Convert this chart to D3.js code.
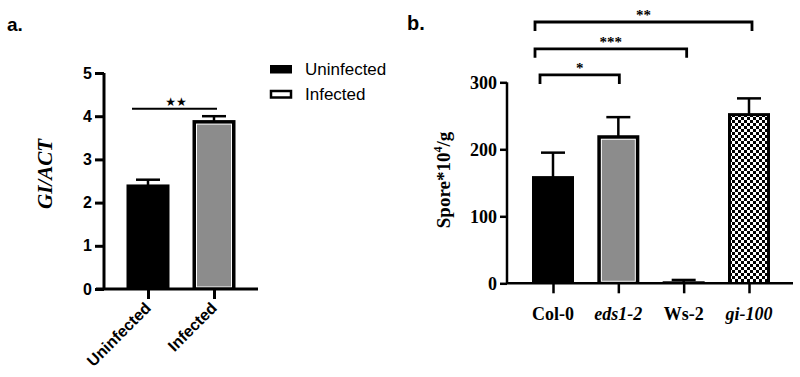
<!DOCTYPE html>
<html><head><meta charset="utf-8">
<script src="https://cdn.jsdelivr.net/npm/d3@7"></script>
<style>body{margin:0;background:#fff}svg{display:block}</style>
</head><body>
<svg id="c" width="800" height="377"></svg>
<script>
// ---- data ----
const catsA = ["Uninfected", "Infected"];
const valsA = [2.42, 3.91];
const errA = [0.11, 0.09];
const ticksA = [0, 1, 2, 3, 4, 5];
const sigA = [{from: "Uninfected", to: "Infected", level: 4.17, label: "★★"}];
const legendA = ["Uninfected", "Infected"];

const catsB = ["Col-0", "eds1-2", "Ws-2", "gi-100"];
const italB = [false, true, false, true];
const valsB = [160, 221, 3, 254];
const errB = [35, 27, 2, 22];
const ticksB = [0, 100, 200, 300];
const sigB = [
  {from: "Col-0", to: "gi-100", level: 390, label: "**"},
  {from: "Col-0", to: "Ws-2", level: 350, label: "***"},
  {from: "Col-0", to: "eds1-2", level: 311, label: "*"}
];

const svg = d3.select("#c");
const defs = svg.append("defs");
const pat = defs.append("pattern").attr("id", "chk").attr("patternUnits", "userSpaceOnUse")
  .attr("width", 6).attr("height", 6);
pat.append("rect").attr("width", 6).attr("height", 6).attr("fill", "#fff");
pat.append("rect").attr("width", 3).attr("height", 3).attr("fill", "#000");
pat.append("rect").attr("x", 3).attr("y", 3).attr("width", 3).attr("height", 3).attr("fill", "#000");

function bar(g, x, y, w, h, style) {
  if (style === "black") {
    g.append("rect").attr("x", x).attr("y", y).attr("width", w).attr("height", h).attr("fill", "#000");
  } else if (style === "gray") {
    g.append("rect").attr("x", x).attr("y", y).attr("width", w).attr("height", h).attr("fill", "#000");
    g.append("rect").attr("x", x + 3.5).attr("y", y + 3.5).attr("width", w - 7).attr("height", h - 5).attr("fill", "#fff");
    g.append("rect").attr("x", x + 4.5).attr("y", y + 4.5).attr("width", w - 9).attr("height", h - 7).attr("fill", "#8c8c8c");
  } else if (style === "check") {
    g.append("rect").attr("x", x).attr("y", y).attr("width", w).attr("height", h).attr("fill", "#000");
    g.append("rect").attr("x", x + 3).attr("y", y + 3).attr("width", w - 6).attr("height", h - 4).attr("fill", "url(#chk)");
  }
}

// ---------- Panel a ----------
const yA = d3.scaleLinear().domain([0, 5]).range([289, 73]);
const xA = d3.scalePoint().domain(catsA).range([148, 214]);
const bwA = 43;
const gA = svg.append("g");

svg.append("text").attr("x", 7).attr("y", 31).attr("font-family", "Arial, Liberation Sans, sans-serif")
  .attr("font-weight", "bold").attr("font-size", 19).text("a.");

catsA.forEach((c, i) => {
  const x0 = xA(c) - bwA / 2, yt = yA(valsA[i]);
  gA.append("line").attr("x1", xA(c)).attr("x2", xA(c)).attr("y1", yA(valsA[i] + errA[i])).attr("y2", yt + 2)
    .attr("stroke", "#000").attr("stroke-width", 2.5);
  gA.append("line").attr("x1", xA(c) - 12).attr("x2", xA(c) + 12).attr("y1", yA(valsA[i] + errA[i])).attr("y2", yA(valsA[i] + errA[i]))
    .attr("stroke", "#000").attr("stroke-width", 2.5);
  bar(gA, x0, yt, bwA, yA(0) - yt, i === 0 ? "black" : "gray");
});

const axA = gA.append("g").attr("transform", "translate(104,0)")
  .call(d3.axisLeft(yA).tickValues(ticksA).tickSize(9).tickPadding(3).tickFormat(d3.format("d")));
axA.select(".domain").attr("stroke-width", 3).attr("d", `M0,${yA(5)}V${yA(0)}`);
axA.selectAll(".tick line").attr("stroke-width", 3);
axA.selectAll(".tick text").attr("font-family", "Arial, Liberation Sans, sans-serif").attr("font-weight", "bold")
  .attr("font-size", 16).attr("fill", "#000");

const axXA = gA.append("g").attr("transform", `translate(0,${yA(0)})`)
  .call(d3.axisBottom(xA).tickSize(10).tickFormat(""));
axXA.select(".domain").attr("stroke-width", 3).attr("d", "M96,0H258");
axXA.selectAll(".tick line").attr("stroke-width", 3);
catsA.forEach(c => {
  gA.append("text").attr("transform", `translate(${xA(c) + 4},${yA(0) + 20}) rotate(-45)`)
    .attr("text-anchor", "end").attr("font-family", "Arial, Liberation Sans, sans-serif")
    .attr("font-weight", "bold").attr("font-size", 16).text(c);
});

gA.append("text").attr("transform", `translate(52,174) rotate(-90)`).attr("text-anchor", "middle")
  .attr("font-family", "Times New Roman, Liberation Serif, serif").attr("font-weight", "bold")
  .attr("font-style", "italic").attr("font-size", 21).text("GI/ACT");

sigA.forEach(s => {
  const y = yA(s.level);
  gA.append("line").attr("x1", xA(s.from) - 16).attr("x2", xA(s.to) + 3).attr("y1", y).attr("y2", y)
    .attr("stroke", "#000").attr("stroke-width", 2);
  gA.append("text").attr("x", (xA(s.from) + xA(s.to)) / 2 - 5).attr("y", y - 3).attr("text-anchor", "middle")
    .attr("font-family", "DejaVu Sans, sans-serif").attr("font-size", 12).text(s.label);
});

legendA.forEach((l, i) => {
  const ly = 65 + i * 25;
  if (i === 0) {
    svg.append("rect").attr("x", 270).attr("y", ly).attr("width", 22).attr("height", 8.5).attr("fill", "#000");
  } else {
    svg.append("rect").attr("x", 271).attr("y", ly + 1).attr("width", 20).attr("height", 6.5)
      .attr("fill", "#fff").attr("stroke", "#000").attr("stroke-width", 2.5);
  }
  svg.append("text").attr("x", 305).attr("y", ly + 9.5).attr("font-family", "Arial, Liberation Sans, sans-serif")
    .attr("font-size", 17).text(l);
});

// ---------- Panel b ----------
const yB = d3.scaleLinear().domain([0, 300]).range([283.3, 82.3]);
const xB = d3.scalePoint().domain(catsB).range([553, 749]);
const bwB = 42;
const gB = svg.append("g");

svg.append("text").attr("x", 407).attr("y", 30).attr("font-family", "Arial, Liberation Sans, sans-serif")
  .attr("font-weight", "bold").attr("font-size", 20).text("b.");

const stylesB = ["black", "gray", "black", "check"];
catsB.forEach((c, i) => {
  const x0 = xB(c) - bwB / 2, yt = yB(valsB[i]);
  const ye = yB(valsB[i] + errB[i]);
  gB.append("line").attr("x1", xB(c)).attr("x2", xB(c)).attr("y1", ye).attr("y2", yt + 2)
    .attr("stroke", "#000").attr("stroke-width", 2.5);
  gB.append("line").attr("x1", xB(c) - 12).attr("x2", xB(c) + 12).attr("y1", ye).attr("y2", ye)
    .attr("stroke", "#000").attr("stroke-width", 2.5);
  bar(gB, x0, yt, bwB, yB(0) - yt, stylesB[i]);
});

const axB = gB.append("g").attr("transform", "translate(507,0)")
  .call(d3.axisLeft(yB).tickValues(ticksB).tickSize(7).tickPadding(3).tickFormat(d3.format("d")));
axB.select(".domain").attr("stroke-width", 2.5).attr("d", `M0,${yB(300)}V${yB(0)}`);
axB.selectAll(".tick line").attr("stroke-width", 2.5);
axB.selectAll(".tick text").attr("font-family", "Times New Roman, Liberation Serif, serif").attr("font-weight", "bold")
  .attr("font-size", 18).attr("fill", "#000");

const axXB = gB.append("g").attr("transform", `translate(0,${yB(0)})`)
  .call(d3.axisBottom(xB).tickSize(10).tickFormat(""));
axXB.select(".domain").attr("stroke-width", 2.5).attr("d", "M507,0H793");
axXB.selectAll(".tick line").attr("stroke-width", 2.5);
catsB.forEach((c, i) => {
  gB.append("text").attr("x", xB(c)).attr("y", 320).attr("text-anchor", "middle")
    .attr("font-family", "Times New Roman, Liberation Serif, serif").attr("font-weight", "bold")
    .attr("font-style", italB[i] ? "italic" : "normal").attr("font-size", 18).text(c);
});

const yl = gB.append("text").attr("transform", `translate(450,180) rotate(-90)`).attr("text-anchor", "middle")
  .attr("font-family", "Times New Roman, Liberation Serif, serif").attr("font-weight", "bold").attr("font-size", 19);
yl.append("tspan").text("Spore*10");
yl.append("tspan").attr("dy", -8).attr("font-size", 12).text("4");
yl.append("tspan").attr("dy", 8).text("/g");

sigB.forEach((s, i) => {
  const y = yB(s.level);
  const x1 = xB(s.from) - (i === 2 ? 13 : 18), x2 = xB(s.to) + (i === 2 ? 1 : 3);
  gB.append("path").attr("d", `M${x1},${y + 9}V${y}H${x2}V${y + 9}`)
    .attr("fill", "none").attr("stroke", "#000").attr("stroke-width", 2.8);
  gB.append("text").attr("x", (x1 + x2) / 2).attr("y", y - 2).attr("text-anchor", "middle")
    .attr("font-family", "Times New Roman, Liberation Serif, serif").attr("font-weight", "bold")
    .attr("font-size", 15).text(s.label);
});
</script>
</body></html>
